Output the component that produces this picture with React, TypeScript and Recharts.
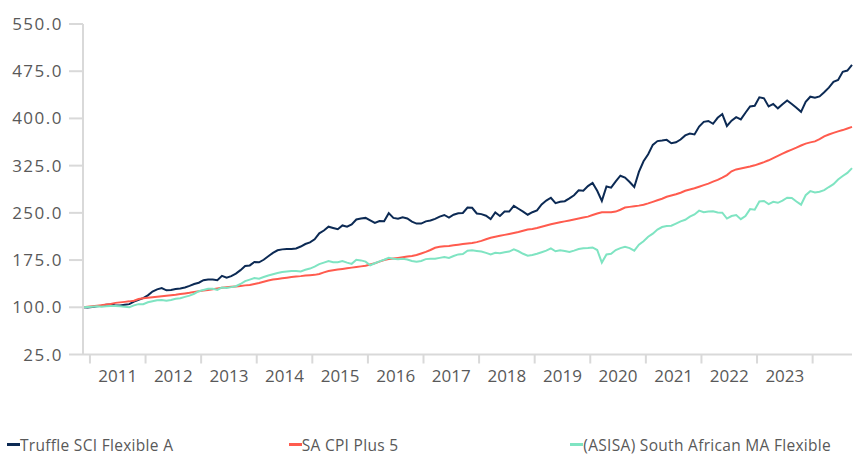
import React from 'react';
import { LineChart, Line, XAxis, YAxis, Legend } from 'recharts';

// First data point: November 2010, monthly to September 2024
const START_YEAR = 2010;
const START_MONTH = 11;

const truffle = [
  100, 99.5, 100.5, 101.5, 102.5, 104, 104.5, 103, 103, 104, 105, 109,
  112, 114.5, 119, 125, 128.5, 130.5, 127, 127.5, 129, 130, 131.5, 134,
  137, 139, 143, 144, 144, 143, 150, 147, 149.5, 153.5, 159, 165.5,
  166.5, 172, 171.5, 175.5, 181, 186.5, 190.5, 192, 192.5, 192.5, 193.5, 196.5,
  200.5, 203, 208, 217.5, 222, 228, 226, 224, 230, 228, 231.5, 239.5,
  241, 242, 238, 234, 237, 236.6, 249.5, 242, 240.7, 243, 241, 236,
  233, 233, 236.5, 238, 240.5, 244, 246.6, 242.5, 247, 249.3, 249.8, 258.5,
  258, 249, 248, 245.5, 240, 250.5, 245, 252, 252, 261, 256.5, 252,
  247, 251, 254, 263.5, 269.5, 274, 265.5, 267.7, 268.5, 273, 278, 285.8,
  285, 292.5, 297.5, 285, 269, 292, 290, 300, 309, 306, 299, 291,
  315, 332, 343, 358, 364, 364.8, 366, 360.5, 362, 366.5, 373, 376,
  374.5, 387, 394.5, 396, 391.5, 401, 407, 388, 396.4, 402, 398.5, 409,
  419, 420, 433.6, 432, 419, 423, 416, 422.5, 428.5, 423, 417, 410.5,
  426.5, 434.5, 433, 435, 441.5, 449, 458, 461, 474, 476, 485,
];

const cpi = [
  100, 101, 101.8, 102.6, 103.4, 104.3, 105.2, 107, 107.8, 108.6, 109.4, 110.5,
  113.2, 114.5, 115.2, 116, 116.8, 117.6, 118.4, 119.3, 120, 121, 122, 123,
  124.5, 125.5, 126.5, 127.5, 128.5, 130, 131, 131.8, 132.5, 133.2, 134, 134.8,
  135.5, 137, 138.5, 140.5, 142.5, 144, 145, 146, 147, 148, 148.8, 149.5,
  150.5, 151, 151.5, 153, 155.5, 157.7, 159, 160, 161, 162, 163, 164,
  165, 166, 168, 170, 172.5, 175, 176.5, 177.5, 178.5, 179.5, 180.5, 181.5,
  183, 185.5, 188, 191, 194.5, 196, 197, 197.5, 198.5, 199.5, 200.5, 201.5,
  202, 203.5, 205.5, 208, 210.5, 212, 213.5, 215, 216.5, 218, 219.5, 221.5,
  223.5, 224.5, 226, 228, 230, 232, 233.5, 235, 236.5, 238, 239.5, 241,
  242.5, 244, 246.5, 249, 251, 251, 251, 252, 255, 258.5, 259.5, 260.5,
  261.5, 263, 265, 267.5, 270, 272.5, 275.5, 277.5, 279.5, 282, 285, 287,
  289, 291.5, 294, 296.5, 299.5, 302.5, 306, 310, 316, 319, 320.5, 322,
  323.5, 325.5, 328, 330.5, 333.5, 337, 340.5, 344, 347.5, 350.5, 353.5, 357,
  360, 362, 363.5, 367, 371.5, 374.5, 377, 379.5, 381.5, 384, 386.5,
];

const asisa = [
  100, 100.5, 101, 101.5, 101, 101.5, 102, 102, 101.5, 101, 100, 103,
  105, 105, 108, 109.5, 111, 111.5, 110.5, 111.5, 113.5, 114.5, 116.5, 118.5,
  121.5, 125.5, 127.5, 129.5, 129.5, 127.5, 131.5, 130.5, 132, 133.5, 137, 141.5,
  144, 146.5, 145.5, 148, 150.5, 152.5, 154.5, 156, 157, 157.5, 157.5, 157,
  159.5, 161.5, 164.5, 168.5, 171, 173.5, 171.5, 171.5, 173.5, 171, 169, 175.5,
  174.5, 172.5, 166.8, 170, 173, 175.5, 178.5, 177, 176.2, 177, 176, 173.5,
  172.5, 173.5, 176.5, 177, 177, 178.5, 180, 178.5, 181.5, 184, 184.5, 190,
  190.5, 189.5, 188.5, 186.5, 184, 186.5, 186, 187.5, 188.5, 192, 189, 185,
  182, 183, 185, 187.5, 190, 193.7, 189, 190.5, 189.5, 188, 190, 192.5,
  193.7, 194, 195, 191, 171, 184, 185, 191, 194, 196, 194, 190,
  199.5, 205, 212, 217, 223.5, 227.5, 229.2, 229.6, 233, 236.5, 239, 244,
  247.5, 253.5, 251, 252, 252.5, 250.5, 250.3, 241, 245, 246.5, 240, 245,
  256, 255, 268, 268.8, 264, 267.5, 266, 269.5, 274, 273.5, 268, 263,
  278, 284.5, 282.5, 283.5, 286, 291, 295.5, 303, 308.5, 313.5, 321,
];

const yTicks = [25, 100, 175, 250, 325, 400, 475, 550];
const yearLabels = ['2011', '2012', '2013', '2014', '2015', '2016', '2017', '2018', '2019', '2020', '2021', '2022', '2023'];

const NAVY = '#0c2a54';
const RED = '#ff5b4e';
const MINT = '#7fe4c2';
const AXIS = '#d9d9d9';
const TEXT = '#595959';
const FONT = '"Open Sans", "Noto Sans", sans-serif';

const series = [
  { key: 'truffle', name: 'Truffle SCI Flexible A', color: NAVY },
  { key: 'cpi', name: 'SA CPI Plus 5', color: RED },
  { key: 'asisa', name: '(ASISA) South African MA Flexible', color: MINT },
];

const data = truffle.map((v, i) => {
  const t = START_MONTH - 1 + i;
  return {
    i,
    year: START_YEAR + Math.floor(t / 12),
    month: (t % 12) + 1,
    truffle: v,
    cpi: cpi[i],
    asisa: asisa[i],
  };
});

const lastIndex = data.length - 1;
// year boundaries sit between December and January
const boundaryTicks = data.filter((d) => d.month === 1).map((d) => d.i - 0.5);
// year labels centred on each labelled year
const labelTicks = yearLabels.map((y) => {
  const jan = data.find((d) => d.year === Number(y) && d.month === 1)!;
  return jan.i + 5.5;
});

const yearFormatter = (v: number) => String(data[Math.floor(v)].year);

const EmptyTick = () => <g />;

const renderLegend = () => (
  <div
    style={{
      display: 'flex',
      alignItems: 'center',
      height: 20,
      position: 'relative',
      top: 0.5,
      paddingLeft: 7,
      fontFamily: FONT,
      fontSize: 15.5,
      letterSpacing: 0.3,
      lineHeight: '16px',
      color: TEXT,
      whiteSpace: 'nowrap',
    }}
  >
    {series.map((s) => (
      <div key={s.key} style={{ width: 290.5, display: 'flex', alignItems: 'center' }}>
        <span style={{ display: 'inline-block', width: 13, height: 2.5, background: s.color }} />
        <span>{s.name}</span>
      </div>
    ))}
  </div>
);

export default function App() {
  return (
    <div style={{ position: 'absolute', left: 0, top: 0, width: 854, height: 454, background: '#fff' }}>
      <LineChart width={854} height={454} data={data} margin={{ top: 24, right: 2, left: 0, bottom: 0 }}>
        <XAxis
          xAxisId="grid"
          dataKey="i"
          type="number"
          domain={[0, lastIndex]}
          ticks={boundaryTicks}
          interval={0}
          tick={EmptyTick}
          height={2}
          tickSize={9}
          axisLine={{ stroke: AXIS, strokeWidth: 2 }}
          tickLine={{ stroke: AXIS, strokeWidth: 2 }}
        />
        <XAxis
          xAxisId="years"
          dataKey="i"
          type="number"
          domain={[0, lastIndex]}
          ticks={labelTicks}
          interval={0}
          tickFormatter={yearFormatter}
          axisLine={false}
          tickLine={false}
          tickSize={0}
          tickMargin={13.5}
          height={77.5}
          tick={{ fill: TEXT, fontSize: 17, fontFamily: FONT }}
        />
        <YAxis
          type="number"
          domain={[25, 550]}
          ticks={yTicks}
          interval={0}
          width={83}
          tickSize={14}
          tickMargin={6}
          tickFormatter={(v: number) => v.toFixed(1)}
          axisLine={{ stroke: AXIS, strokeWidth: 2 }}
          tickLine={{ stroke: AXIS, strokeWidth: 2 }}
          tick={{ fill: TEXT, fontSize: 17, fontFamily: FONT, letterSpacing: 1.5 }}
        />
        <Legend verticalAlign="bottom" align="left" content={renderLegend} />
        {series.map((s) => (
          <Line
            key={s.key}
            xAxisId="grid"
            type="linear"
            dataKey={s.key}
            name={s.name}
            stroke={s.color}
            strokeWidth={2}
            dot={false}
            isAnimationActive={false}
          />
        ))}
      </LineChart>
    </div>
  );
}
